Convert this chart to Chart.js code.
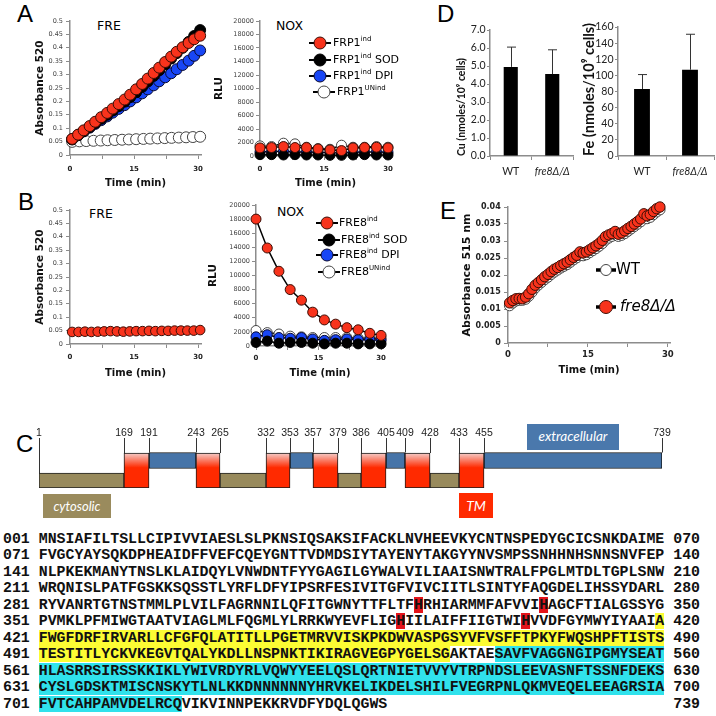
<!DOCTYPE html>
<html>
<head>
<meta charset="utf-8">
<script src="https://cdn.jsdelivr.net/npm/chart.js@4.4.1/dist/chart.umd.min.js"></script>
<style>
html,body{margin:0;padding:0;background:#fff;}
body{width:716px;height:716px;position:relative;overflow:hidden;}
canvas{position:absolute;}
.t{position:absolute;white-space:nowrap;color:#000;line-height:1;}
.letter{font-family:"Liberation Sans",Arial,sans-serif;font-size:24px;}
.ptitle{font-family:"DejaVu Sans",sans-serif;font-size:12.5px;}
.box{position:absolute;color:#fff;font-family:Lato,sans-serif;font-style:italic;display:flex;align-items:center;justify-content:center;line-height:1;}
#seq{position:absolute;left:3px;top:530.75px;font-family:"Liberation Mono",monospace;font-weight:bold;font-size:14.9px;line-height:16.5px;white-space:pre;color:#111;}
#seq div{height:16.5px;}
.hy{background:#fcfc34}.hc{background:#30e2ec}.hr{background:#e3141b}
</style>
</head>
<body>
<div class="t letter" style="left:17px;top:2px">A</div>
<div class="t letter" style="left:18px;top:190px">B</div>
<div class="t letter" style="left:16px;top:432px">C</div>
<div class="t letter" style="left:437px;top:2px">D</div>
<div class="t letter" style="left:440px;top:199px">E</div>
<div class="t ptitle" style="left:97px;top:19.5px">FRE</div>
<div class="t ptitle" style="left:276px;top:19.5px">NOX</div>
<div class="t ptitle" style="left:89px;top:207.5px">FRE</div>
<div class="t ptitle" style="left:277px;top:205.5px">NOX</div>

<canvas id="cAfre"></canvas>
<canvas id="cAnox"></canvas>
<canvas id="cBfre"></canvas>
<canvas id="cBnox"></canvas>
<canvas id="cDcu"></canvas>
<canvas id="cDfe"></canvas>
<canvas id="cE"></canvas>
<canvas id="cC"></canvas>

<div class="box" style="left:43px;top:494px;width:68px;height:24px;background:#9a8b5d;font-size:13px">cytosolic</div>
<div class="box" style="left:527px;top:424px;width:92px;height:26px;background:#4a78ac;font-size:13.5px">extracellular</div>
<div class="box" style="left:459px;top:493px;width:34px;height:25px;background:#ff2a00;font-size:14px">TM</div>

<div id="seq"></div>

<script>
// ================= DATA =================
const timeTicks = [0, 7.5, 15, 22.5, 30];
const timeLabels = [0, 15, 30];
const absTicks = [0, 0.05, 0.1, 0.15, 0.2, 0.25, 0.3, 0.35, 0.4, 0.45, 0.5];
const rluTicks = [0, 2000, 4000, 6000, 8000, 10000, 12000, 14000, 16000, 18000, 20000];
const abs515Ticks = [0, 0.005, 0.01, 0.015, 0.02, 0.025, 0.03, 0.035, 0.04];
const cuTicks = [0, 1, 2, 3, 4, 5, 6, 7];
const feTicks = [0, 20, 40, 60, 80, 100, 120, 140, 160];

// Panel A - FRE (FRP1)
const tFRE_A = [0.5, 1.9, 3.2, 4.6, 5.9, 7.3, 8.7, 10.0, 11.4, 12.8, 14.1, 15.5, 16.9, 18.2, 19.6, 20.9, 22.3, 23.7, 25.0, 26.4, 27.8, 29.1, 30.5];
const freA_ind = [0.060, 0.076, 0.092, 0.108, 0.124, 0.141, 0.157, 0.173, 0.190, 0.207, 0.225, 0.245, 0.265, 0.285, 0.306, 0.326, 0.347, 0.367, 0.385, 0.402, 0.418, 0.432, 0.445];
const freA_sod = [0.058, 0.074, 0.089, 0.104, 0.119, 0.135, 0.150, 0.166, 0.182, 0.199, 0.216, 0.234, 0.254, 0.274, 0.295, 0.316, 0.338, 0.360, 0.380, 0.400, 0.422, 0.444, 0.466];
const freA_dpi = [0.059, 0.074, 0.088, 0.102, 0.116, 0.130, 0.144, 0.158, 0.172, 0.186, 0.200, 0.215, 0.230, 0.245, 0.260, 0.275, 0.290, 0.305, 0.320, 0.336, 0.352, 0.370, 0.390];
const tFRE_Aun = [0.5, 2.2, 3.8, 5.5, 7.2, 8.8, 10.5, 12.2, 13.8, 15.5, 17.2, 18.8, 20.5, 22.2, 23.8, 25.5, 27.2, 28.8, 30.5];
const freA_un = [0.049, 0.051, 0.052, 0.053, 0.054, 0.055, 0.056, 0.057, 0.058, 0.059, 0.060, 0.061, 0.062, 0.063, 0.064, 0.065, 0.066, 0.067, 0.068];

// Panels A/B - NOX
const tNOX = [0, 2.7, 5.5, 8.2, 10.9, 13.6, 16.4, 19.1, 21.8, 24.5, 27.3, 30];
const noxA_ind = [1200, 1250, 1400, 1250, 1250, 1050, 900, 800, 1200, 1250, 1300, 1200];
const noxA_sod = [200, 200, 150, 200, 150, 150, 100, 100, 150, 200, 150, 150];
const noxA_dpi = [600, 650, 700, 600, 600, 550, 500, 450, 550, 600, 600, 550];
const noxA_un = [1500, 1400, 1900, 1800, 1300, 1100, 1000, 1600, 1300, 1300, 1400, 1300];
const noxB_ind = [18000, 13900, 10600, 8000, 6500, 4800, 3700, 3100, 2600, 2300, 1800, 1500];
const noxB_sod = [500, 700, 400, 500, 500, 400, 300, 400, 400, 300, 300, 300];
const noxB_dpi = [1300, 1600, 1200, 1100, 1200, 1000, 800, 900, 1000, 900, 900, 800];
const noxB_un = [2200, 1900, 1700, 1400, 1300, 1200, 1200, 1200, 1200, 1100, 1100, 1100];

// Panel B - FRE (FRE8)
const tFRE_B = [0.5, 2, 3.5, 5, 6.5, 8, 9.5, 11, 12.5, 14, 15.5, 17, 18.5, 20, 21.5, 23, 24.5, 26, 27.5, 29, 30.5];
const freB_ind = [0.045, 0.045, 0.046, 0.045, 0.046, 0.047, 0.048, 0.047, 0.046, 0.047, 0.048, 0.048, 0.049, 0.048, 0.049, 0.049, 0.050, 0.050, 0.050, 0.050, 0.052];

const legendA = [['FRP1', 'ind', ''], ['FRP1', 'ind', ' SOD'], ['FRP1', 'ind', ' DPI'], ['FRP1', 'UNind', '']];
const legendB = [['FRE8', 'ind', ''], ['FRE8', 'ind', ' SOD'], ['FRE8', 'ind', ' DPI'], ['FRE8', 'UNind', '']];

// Panel D
const strains = ['WT', 'fre8\u0394/\u0394'];
const cuMean = [4.95, 4.55];
const cuErr = [1.1, 1.35];
const feMean = [83, 107];
const feErr = [18, 44];

// Panel E
const tE = [0.3, 0.9, 1.5, 2.1, 2.7, 3.3, 3.9, 4.5, 5.1, 5.7, 6.3, 6.9, 7.5, 8.1, 8.7, 9.3, 9.9, 10.5, 11.1, 11.7, 12.3, 12.9, 13.5, 14.1, 14.7, 15.3, 15.9, 16.5, 17.1, 17.7, 18.3, 18.9, 19.5, 20.1, 20.7, 21.3, 21.9, 22.5, 23.1, 23.7, 24.3, 24.9, 25.5, 26.1, 26.7, 27.3, 27.9, 28.5];
const eFre8 = [0.0118, 0.0125, 0.0130, 0.0131, 0.0130, 0.0135, 0.0145, 0.0158, 0.0170, 0.0178, 0.0186, 0.0195, 0.0202, 0.0210, 0.0217, 0.0222, 0.0228, 0.0233, 0.0238, 0.0245, 0.0252, 0.0258, 0.0268, 0.0265, 0.0268, 0.0274, 0.0280, 0.0286, 0.0293, 0.0302, 0.0313, 0.0318, 0.0322, 0.0328, 0.0320, 0.0324, 0.0330, 0.0337, 0.0343, 0.0350, 0.0357, 0.0365, 0.0380, 0.0374, 0.0378, 0.0387, 0.0395, 0.0400];
const eWT = [0.0110, 0.0118, 0.0124, 0.0126, 0.0126, 0.0129, 0.0138, 0.0150, 0.0162, 0.0171, 0.0179, 0.0187, 0.0194, 0.0202, 0.0209, 0.0215, 0.0221, 0.0226, 0.0231, 0.0238, 0.0245, 0.0251, 0.0258, 0.0257, 0.0260, 0.0266, 0.0272, 0.0278, 0.0285, 0.0293, 0.0303, 0.0309, 0.0314, 0.0319, 0.0314, 0.0317, 0.0322, 0.0329, 0.0336, 0.0343, 0.0350, 0.0357, 0.0370, 0.0366, 0.0370, 0.0378, 0.0386, 0.0392];
const legendE = ['WT', 'fre8\u0394/\u0394'];

// Panel C - topology (residue numbers) and sequence
const boundaries = [1, 169, 191, 243, 265, 332, 353, 357, 379, 386, 405, 409, 428, 433, 455, 739];
const tmSeg = [[169, 191], [243, 265], [332, 353], [357, 379], [386, 405], [409, 428], [433, 455]];
const exSeg = [[191, 243], [353, 357], [405, 409], [455, 739]];
const cySeg = [[1, 169], [265, 332], [379, 386], [428, 433]];
const seqLines = [
  'MNSIAFILTSLLCIPIVVIAESLSLPKNSIQSAKSIFACKLNVHEEVKYCNTNSPEDYGCICSNKDAIME',
  'FVGCYAYSQKDPHEAIDFFVEFCQEYGNTTVDMDSIYTAYENYTAKGYYNVSMPSSNHHNHSNNSNVFEP',
  'NLPKEKMANYTNSLKLAIDQYLVNWDNTFYYGAGILGYWALVILIAAISNWTRALFPGLMTDLTGPLSNW',
  'WRQNISLPATFGSKKSQSSTLYRFLDFYIPSRFESIVITGFVIVCIITLSINTYFAQGDELIHSSYDARL',
  'RYVANRTGTNSTMMLPLVILFAGRNNILQFITGWNYTTFLTFHRHIARMMFAFVVIHAGCFTIALGSSYG',
  'PVMKLPFMIWGTAATVIAGLMLFQGMLYLRRKWYEVFLIGHIILAIFFIIGTWIHVVDFGYMWYIYAAIA',
  'FWGFDRFIRVARLLCFGFQLATITLLPGETMRVVISKPKDWVASPGSYVFVSFFTPKYFWQSHPFTISTS',
  'TESTITLYCKVKEGVTQALYKDLLNSPNKTIKIRAGVEGPYGELSGAKTAESAVFVAGGNGIPGMYSEAT',
  'HLASRRSIRSSKKIKLYWIVRDYRLVQWYYEELQSLQRTNIETVVYVTRPNDSLEEVASNFTSSNFDEKS',
  'CYSLGDSKTMISCNSKYTLNLKKDNNNNNNYHRVKELIKDELSHILFVEGRPNLQKMVEQELEEAGRSIA',
  'FVTCAHPAMVDELRCQVIKVINNPEKKRVDFYDQLQGWS'
];
const yellowRange = [420, 536];
const cyanRange = [542, 716];
const redRes = [323, 337, 391, 405];

// ================= LAYOUT / STYLE =================
Chart.defaults.animation = false;
Chart.defaults.responsive = false;
Chart.defaults.devicePixelRatio = 1;
Chart.defaults.events = [];
Chart.defaults.plugins.legend.display = false;
Chart.defaults.plugins.tooltip.enabled = false;
Chart.defaults.font.family = 'Lato, sans-serif';

const MAC = '"DejaVu Sans", sans-serif';
const AX = '#8c8c8c';
const STY = {
  red: {bg: '#f8331c', bd: '#3a0d05'},
  black: {bg: '#000000', bd: '#000000'},
  blue: {bg: '#1846f5', bd: '#0a0a30'},
  white: {bg: '#ffffff', bd: '#444444'}
};

function zeroPad(s) { s.paddingLeft = 0; s.paddingRight = 0; s.paddingTop = 0; s.paddingBottom = 0; }
function place(id, area, m) {
  const c = document.getElementById(id);
  c.width = area[2] - area[0] + m.l + m.r;
  c.height = area[3] - area[1] + m.t + m.b;
  c.style.left = (area[0] - m.l) + 'px';
  c.style.top = (area[1] - m.t) + 'px';
  return c;
}
function timeAxis(max, m, pad, titlePad, fs) {
  return {
    type: 'linear', min: 0, max: max,
    afterBuildTicks: s => { s.ticks = timeTicks.map(v => ({value: v})); },
    afterFit: s => { s.height = m.b; zeroPad(s); },
    ticks: {autoSkip: false, maxRotation: 0, padding: pad, color: '#222',
      font: {family: MAC, size: fs, weight: 'bold'},
      callback: v => timeLabels.includes(v) ? String(v) : ''},
    grid: {drawOnChartArea: false, tickLength: 4, color: AX},
    border: {color: AX, width: 1.5},
    title: {display: true, text: 'Time (min)', color: '#111', font: {family: MAC, size: 10, weight: 'bold'}, padding: {top: 0, bottom: titlePad}}
  };
}
function valueAxis(o) {
  return {
    type: 'linear', min: o.ticks[0], max: o.ticks[o.ticks.length - 1],
    afterBuildTicks: s => { s.ticks = o.ticks.map(v => ({value: v})); },
    afterFit: s => { s.width = o.w; zeroPad(s); },
    ticks: {autoSkip: false, padding: o.pad, color: o.color || '#444', font: o.font, callback: o.fmt},
    grid: {drawOnChartArea: false, tickLength: o.tl || 4, color: AX},
    border: {color: AX, width: 1.5},
    title: {display: true, text: o.title, color: '#111', font: o.titleFont, align: o.titleAlign || 'center', padding: {top: o.titlePad, bottom: 0}}
  };
}
function series(t, v, sty, r, lw) {
  return {
    data: t.map((x, i) => ({x: x, y: v[i]})),
    pointBackgroundColor: sty.bg, pointBorderColor: sty.bd, backgroundColor: sty.bg,
    pointRadius: r, pointBorderWidth: 1, borderColor: '#000', borderWidth: lw,
    showLine: true, clip: false, tension: 0
  };
}

// legend drawn through a plugin (supports superscripts)
const richLegend = {
  id: 'richLegend',
  afterDatasetsDraw(chart, args, opts) {
    const items = opts.items;
    if (!items) return;
    const ctx = chart.ctx, ca = chart.chartArea;
    ctx.save();
    items.forEach(it => {
      const ds = chart.data.datasets[it.ds];
      const cx = ca.left + it.x, cy = ca.top + it.y;
      const r = it.r || opts.r;
      ctx.strokeStyle = '#000'; ctx.lineWidth = opts.lineWidth;
      ctx.beginPath(); ctx.moveTo(cx - opts.half, cy); ctx.lineTo(cx + opts.half, cy); ctx.stroke();
      ctx.beginPath(); ctx.arc(cx, cy, r, 0, Math.PI * 2);
      ctx.fillStyle = ds.pointBackgroundColor; ctx.fill();
      ctx.lineWidth = 1; ctx.strokeStyle = ds.pointBorderColor; ctx.stroke();
      let tx = cx + (it.tdx || opts.tdx);
      ctx.fillStyle = '#000'; ctx.textBaseline = 'middle'; ctx.textAlign = 'left';
      it.parts.forEach(p => {
        ctx.font = p.sup ? opts.supFont : ((it.italic ? 'italic ' : '') + opts.font);
        ctx.fillText(p.t, tx, p.sup ? cy - opts.supRise : cy);
        tx += ctx.measureText(p.t).width;
      });
    });
    ctx.restore();
  }
};
function legendParts(lbl) { return [{t: lbl[0]}, {t: lbl[1], sup: true}, {t: lbl[2]}]; }

const errorBars = {
  id: 'errorBars',
  afterDatasetsDraw(chart, args, opts) {
    if (!opts.err) return;
    const meta = chart.getDatasetMeta(0), ys = chart.scales.y, ctx = chart.ctx;
    const vals = chart.data.datasets[0].data;
    ctx.save(); ctx.strokeStyle = '#333'; ctx.lineWidth = 1;
    meta.data.forEach((el, i) => {
      const yTop = ys.getPixelForValue(vals[i] + opts.err[i]);
      const x = Math.round(el.x) + 0.5;
      ctx.beginPath();
      ctx.moveTo(x, el.y); ctx.lineTo(x, yTop);
      ctx.moveTo(x - 4.5, yTop); ctx.lineTo(x + 4.5, yTop);
      ctx.stroke();
    });
    ctx.restore();
  }
};

// ================= PANEL A =================
const mAF = {l: 42, t: 10, r: 10, b: 36};
new Chart(place('cAfre', [70, 21, 201, 155], mAF), {
  type: 'line',
  data: {datasets: [
    series(tFRE_A, freA_ind, STY.red, 5.5, 1),
    series(tFRE_A, freA_sod, STY.black, 5.5, 1),
    series(tFRE_A, freA_dpi, STY.blue, 5.5, 1),
    series(tFRE_Aun, freA_un, STY.white, 5.5, 1)
  ]},
  options: {
    layout: {padding: {left: 0, top: mAF.t, right: mAF.r, bottom: 0}},
    scales: {
      x: timeAxis(30.7, mAF, 5.8, 2, 7),
      y: valueAxis({ticks: absTicks, w: mAF.l, pad: 3, font: {family: MAC, size: 6.5}, fmt: v => String(v),
        title: 'Absorbance 520', titleFont: {family: MAC, size: 10.5, weight: 'bold'}, titlePad: 5.7})
    }
  }
});

const mAN = {l: 54, t: 10, r: 30, b: 35};
new Chart(place('cAnox', [260, 21, 391, 156], mAN), {
  type: 'line',
  data: {datasets: [
    series(tNOX, noxA_ind, STY.red, 5, 1.5),
    series(tNOX, noxA_sod, STY.black, 5, 1.5),
    series(tNOX, noxA_dpi, STY.blue, 5, 1.5),
    series(tNOX, noxA_un, STY.white, 5, 1.5)
  ]},
  options: {
    layout: {padding: {left: 0, top: mAN.t, right: mAN.r, bottom: 0}},
    scales: {
      x: timeAxis(30.7, mAN, 4.8, 2, 7),
      y: valueAxis({ticks: rluTicks, w: mAN.l, pad: 2, font: {family: MAC, size: 6.5}, fmt: v => String(v),
        title: 'RLU', titleFont: {family: MAC, size: 10.5, weight: 'bold'}, titlePad: 6.7})
    },
    plugins: {richLegend: {r: 6, half: 11, tdx: 13, lineWidth: 2, font: '11px "DejaVu Sans"', supFont: '7px "DejaVu Sans"', supRise: 4,
      items: [
        {ds: 0, x: 60, y: 22, parts: legendParts(legendA[0])},
        {ds: 1, x: 60, y: 39, parts: legendParts(legendA[1])},
        {ds: 2, x: 60, y: 55, parts: legendParts(legendA[2])},
        {ds: 3, x: 64, y: 71, parts: legendParts(legendA[3])}
      ]}}
  },
  plugins: [richLegend]
});

// ================= PANEL B =================
const mBF = {l: 42, t: 10, r: 10, b: 36};
new Chart(place('cBfre', [70, 210, 201, 344], mBF), {
  type: 'line',
  data: {datasets: [series(tFRE_B, freB_ind, STY.red, 4.8, 1)]},
  options: {
    layout: {padding: {left: 0, top: mBF.t, right: mBF.r, bottom: 0}},
    scales: {
      x: timeAxis(30.7, mBF, 4.8, 1, 7),
      y: valueAxis({ticks: absTicks, w: mBF.l, pad: 3, font: {family: MAC, size: 6.5}, fmt: v => String(v),
        title: 'Absorbance 520', titleFont: {family: MAC, size: 10.5, weight: 'bold'}, titlePad: 5.7})
    }
  }
});

const mBN = {l: 56, t: 10, r: 40, b: 34};
new Chart(place('cBnox', [256, 205, 384, 346], mBN), {
  type: 'line',
  data: {datasets: [
    series(tNOX, noxB_ind, STY.red, 5, 1.5),
    series(tNOX, noxB_sod, STY.black, 5, 1.5),
    series(tNOX, noxB_dpi, STY.blue, 5, 1.5),
    series(tNOX, noxB_un, STY.white, 5, 1.5)
  ]},
  options: {
    layout: {padding: {left: 0, top: mBN.t, right: mBN.r, bottom: 0}},
    scales: {
      x: timeAxis(30.7, mBN, 3.8, 1, 7),
      y: valueAxis({ticks: rluTicks, w: mBN.l, pad: 2, font: {family: MAC, size: 6.5}, fmt: v => String(v),
        title: 'RLU', titleFont: {family: MAC, size: 10.5, weight: 'bold'}, titlePad: 6.7})
    },
    plugins: {richLegend: {r: 6, half: 11, tdx: 12, lineWidth: 2, font: '11px "DejaVu Sans"', supFont: '7px "DejaVu Sans"', supRise: 4,
      items: [
        {ds: 0, x: 71, y: 18, parts: legendParts(legendB[0])},
        {ds: 1, x: 73, y: 35, parts: legendParts(legendB[1])},
        {ds: 2, x: 71, y: 50, parts: legendParts(legendB[2])},
        {ds: 3, x: 73, y: 67, parts: legendParts(legendB[3])}
      ]}}
  },
  plugins: [richLegend]
});

// ================= PANEL D =================
function catAxis(m) {
  return {
    type: 'category', offset: true,
    afterFit: s => { s.height = m.b; zeroPad(s); },
    ticks: {padding: 5.7, color: '#222', font: c => ({family: 'Lato, sans-serif', size: 10.5, style: c.index === 1 ? 'italic' : 'normal'})},
    grid: {offset: true, drawOnChartArea: false, tickLength: 4, color: AX},
    border: {color: AX, width: 1.5}
  };
}
const mDC = {l: 38, t: 10, r: 8, b: 24};
new Chart(place('cDcu', [490, 30, 573, 156], mDC), {
  type: 'bar',
  data: {labels: strains, datasets: [{data: cuMean, backgroundColor: '#000', barPercentage: 0.34, categoryPercentage: 1}]},
  options: {
    layout: {padding: {left: 0, top: mDC.t, right: mDC.r, bottom: 0}},
    scales: {
      x: catAxis(mDC),
      y: valueAxis({ticks: cuTicks, w: mDC.l, pad: 1.5, tl: 3, color: '#222', font: {family: 'Lato, sans-serif', size: 10.5}, fmt: v => v.toFixed(1),
        title: 'Cu (nmoles/10\u2079 cells)', titleFont: {family: 'Lato, sans-serif', size: 10.5, weight: 'bold'}, titleAlign: 'start', titlePad: 3.7})
    },
    plugins: {errorBars: {err: cuErr}}
  },
  plugins: [errorBars]
});
const mDF = {l: 39, t: 22, r: 2, b: 24};
new Chart(place('cDfe', [618, 27, 714, 156], mDF), {
  type: 'bar',
  data: {labels: strains, datasets: [{data: feMean, backgroundColor: '#000', barPercentage: 0.33, categoryPercentage: 1}]},
  options: {
    layout: {padding: {left: 0, top: mDF.t, right: mDF.r, bottom: 0}},
    scales: {
      x: catAxis(mDF),
      y: valueAxis({ticks: feTicks, w: mDF.l, pad: 1.5, tl: 3, color: '#222', font: {family: 'Lato, sans-serif', size: 10.5}, fmt: v => String(v),
        title: 'Fe (nmoles/10\u2079 cells)', titleFont: {family: 'Lato, sans-serif', size: 14.5, weight: 'bold'}, titleAlign: 'start', titlePad: 1.3})
    },
    plugins: {errorBars: {err: feErr}}
  },
  plugins: [errorBars]
});

// ================= PANEL E =================
const mE = {l: 50, t: 10, r: 10, b: 34};
new Chart(place('cE', [508, 207, 670, 343], mE), {
  type: 'line',
  data: {datasets: [
    series(tE, eFre8, STY.red, 5.2, 1),
    series(tE, eWT, STY.white, 5.2, 1)
  ]},
  options: {
    layout: {padding: {left: 0, top: mE.t, right: mE.r, bottom: 0}},
    scales: {
      x: timeAxis(30.4, mE, 2.9, 1, 8.5),
      y: valueAxis({ticks: abs515Ticks, w: mE.l, pad: 3.3, color: '#222', font: {family: MAC, size: 8, weight: 'bold'}, fmt: v => String(v),
        title: 'Absorbance 515 nm', titleFont: {family: MAC, size: 11, weight: 'bold'}, titlePad: 2.4})
    },
    plugins: {richLegend: {r: 5.5, half: 10, tdx: 10, lineWidth: 3.5, font: '15px "DejaVu Sans"', supFont: '9px "DejaVu Sans"', supRise: 5,
      items: [
        {ds: 1, x: 98, y: 63, parts: [{t: legendE[0]}]},
        {ds: 0, x: 98, y: 100, r: 6.5, tdx: 14, italic: true, parts: [{t: legendE[1]}]}
      ]}}
  },
  plugins: [richLegend]
});

// ================= PANEL C (topology) =================
// schematic (non-proportional) residue -> drawing position mapping, as a custom scale
const schematicFracs = [0, 0.1364, 0.1766, 0.2520, 0.2905, 0.3644, 0.4029, 0.4398, 0.4799, 0.5169, 0.5570, 0.5875, 0.6276, 0.6742, 0.7143, 1];
class SchematicScale extends Chart.LinearScale {
  getPixelForValue(value) {
    const b = this.options.breaks, f = this.options.fracs;
    if (value === null || value === undefined || isNaN(value)) return NaN;
    let i = 0;
    while (i < b.length - 2 && value > b[i + 1]) i++;
    const t = (value - b[i]) / (b[i + 1] - b[i]);
    return this.getPixelForDecimal(f[i] + t * (f[i + 1] - f[i]));
  }
  getValueForPixel(pixel) {
    const b = this.options.breaks, f = this.options.fracs;
    const d = this.getDecimalForPixel(pixel);
    let i = 0;
    while (i < f.length - 2 && d > f[i + 1]) i++;
    return b[i] + (d - f[i]) / (f[i + 1] - f[i]) * (b[i + 1] - b[i]);
  }
}
SchematicScale.id = 'schematic';
SchematicScale.defaults = {};
Chart.register(SchematicScale);

const TM_Y = 0.35, TM_H = 35, EX_Y = 0.55, EX_H = 16, CY_Y = 0.15, CY_H = 15;
function tmGradient(c) {
  const ch = c.chart, ys = ch.scales.y;
  if (!ys || !ch.chartArea) return '#ff2a00';
  const cy = ys.getPixelForValue(TM_Y);
  const g = ch.ctx.createLinearGradient(0, cy - TM_H / 2, 0, cy + TM_H / 2);
  g.addColorStop(0, '#f5cdc9');
  g.addColorStop(0.42, '#ff2a00');
  g.addColorStop(1, '#ff2a00');
  return g;
}
const boundaryLines = {
  id: 'boundaryLines',
  beforeDatasetsDraw(chart) {
    const xs = chart.scales.x, ca = chart.chartArea, ctx = chart.ctx;
    ctx.save(); ctx.strokeStyle = '#333'; ctx.lineWidth = 1;
    boundaries.forEach(v => {
      const px = Math.round(xs.getPixelForValue(v)) + 0.5;
      let top = ca.bottom;
      chart.data.datasets.forEach((ds, di) => {
        chart.getDatasetMeta(di).data.forEach(el => {
          const a = Math.min(el.x, el.base), b = Math.max(el.x, el.base);
          if (px >= a - 1 && px <= b + 1) top = Math.min(top, el.y - el.height / 2);
        });
      });
      ctx.beginPath(); ctx.moveTo(px, ca.top); ctx.lineTo(px, top); ctx.stroke();
    });
    ctx.restore();
  }
};
const mC = {l: 10, t: 18, r: 12, b: 0};
new Chart(place('cC', [39, 438, 662, 488], mC), {
  type: 'bar',
  data: {datasets: [
    {data: tmSeg.map(s => ({x: s, y: TM_Y})), barThickness: TM_H, backgroundColor: tmGradient, borderColor: '#1a1a1a', borderWidth: 1, borderSkipped: false, grouped: false},
    {data: exSeg.map(s => ({x: s, y: EX_Y})), barThickness: EX_H, backgroundColor: '#4674a8', borderColor: '#111', borderWidth: 1, borderSkipped: false, grouped: false},
    {data: cySeg.map(s => ({x: s, y: CY_Y})), barThickness: CY_H, backgroundColor: '#988a5c', borderColor: '#222', borderWidth: 1, borderSkipped: false, grouped: false}
  ]},
  options: {
    indexAxis: 'y',
    layout: {padding: {left: mC.l, right: mC.r, top: 0, bottom: 0}},
    scales: {
      x: {type: 'schematic', position: 'top', min: 1, max: 739, breaks: boundaries, fracs: schematicFracs,
        afterBuildTicks: s => { s.ticks = boundaries.map(v => ({value: v})); },
        afterFit: s => { s.height = mC.t; zeroPad(s); },
        ticks: {autoSkip: false, maxRotation: 0, padding: -8.25, color: '#222', font: {family: '"Liberation Sans", Arial, sans-serif', size: 10.5, lineHeight: 1}, callback: v => String(v)},
        grid: {display: false}, border: {display: false}},
      y: {type: 'linear', min: 0, max: 1, offset: false, grid: {offset: false}, display: false}
    }
  },
  plugins: [boundaryLines]
});

// ================= SEQUENCE =================
(function () {
  const seq = document.getElementById('seq');
  const cls = r => redRes.includes(r) ? 'hr' : (r >= yellowRange[0] && r <= yellowRange[1]) ? 'hy' : (r >= cyanRange[0] && r <= cyanRange[1]) ? 'hc' : '';
  seqLines.forEach((line, li) => {
    const start = li * 70 + 1, end = start + line.length - 1;
    const div = document.createElement('div');
    div.appendChild(document.createTextNode(String(start).padStart(3, '0') + ' '));
    let cur = null, buf = '';
    const flush = () => {
      if (!buf) return;
      if (cur) { const sp = document.createElement('span'); sp.className = cur; sp.textContent = buf; div.appendChild(sp); }
      else div.appendChild(document.createTextNode(buf));
      buf = '';
    };
    for (let j = 0; j < line.length; j++) {
      const c = cls(start + j);
      if (c !== cur) { flush(); cur = c; }
      buf += line[j];
    }
    flush();
    div.appendChild(document.createTextNode(' '.repeat(70 - line.length) + ' ' + String(end).padStart(3, '0')));
    seq.appendChild(div);
  });
})();
</script>
</body>
</html>
